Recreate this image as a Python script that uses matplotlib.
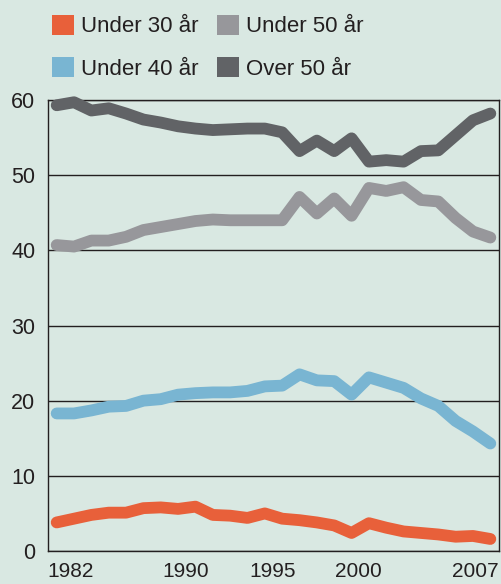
import matplotlib.pyplot as plt
from matplotlib.patches import Patch
from matplotlib.transforms import ScaledTranslation

plt.rcParams['font.family'] = ['Liberation Sans', 'DejaVu Sans']

# Andel (%) per aldersgruppe, 1982-2007
years = list(range(1982, 2008))
under30 = [3.8, 4.3, 4.8, 5.1, 5.1, 5.7, 5.8, 5.6, 5.9, 4.8, 4.7, 4.4, 5.0,
           4.3, 4.1, 3.8, 3.4, 2.4, 3.7, 3.1, 2.6, 2.4, 2.2, 1.9, 2.0, 1.6]
under40 = [18.3, 18.3, 18.7, 19.2, 19.3, 20.0, 20.2, 20.8, 21.0, 21.1, 21.1,
           21.3, 21.9, 22.0, 23.5, 22.7, 22.6, 20.8, 23.1, 22.4, 21.7, 20.3,
           19.3, 17.3, 15.9, 14.3]
under50 = [40.7, 40.5, 41.3, 41.3, 41.8, 42.7, 43.1, 43.5, 43.9, 44.1, 44.0,
           44.0, 44.0, 44.0, 47.1, 44.9, 46.9, 44.6, 48.3, 47.9, 48.4, 46.7,
           46.5, 44.3, 42.5, 41.7]
over50 = [59.3, 59.7, 58.6, 58.9, 58.2, 57.4, 57.0, 56.5, 56.2, 56.0, 56.1,
          56.2, 56.2, 55.7, 53.2, 54.6, 53.2, 54.9, 51.8, 52.0, 51.8, 53.2,
          53.3, 55.3, 57.3, 58.2]

labels = ["Under 30 år", "Under 40 år", "Under 50 år", "Over 50 år"]
colors = ["#e8603a", "#79b5d2", "#97979b", "#616366"]
series = [under30, under40, under50, over50]
xtick_years = [1982, 1990, 1995, 2000, 2007]

bg = "#d9e8e2"
ink = "#231f20"

fig = plt.figure(figsize=(5.01, 5.84), dpi=100, facecolor=bg)
ax = fig.add_axes([48 / 501, 33 / 584, 451 / 501, 451 / 584], facecolor=bg)

# Draw the lines (bottom series first, like the original)
for vals, col in zip(series, colors):
    ax.plot(years, vals, color=col, linewidth=8.5, solid_capstyle='round',
            solid_joinstyle='round', clip_on=False, zorder=3)

ax.set_xlim(1981.5, 2007.5)
ax.set_ylim(0, 60)
ax.set_yticks(range(0, 61, 10))
ax.yaxis.grid(True, color=ink, linewidth=1.0)
ax.set_axisbelow(True)
for sp in ax.spines.values():
    sp.set_color(ink)
    sp.set_linewidth(1.0)

ax.tick_params(axis='both', length=0, labelsize=15.5, colors=ink)
ax.tick_params(axis='y', pad=9)
ax.tick_params(axis='x', pad=8, labelsize=15)

ax.set_xticks(xtick_years)
ax.set_xticklabels([str(y) for y in xtick_years])
# nudge the year labels like the printed chart
shifts = [-9, -10, -10, -11, 8]
aligns = ['left', 'center', 'center', 'center', 'right']
for lab, dx, ha in zip(ax.get_xticklabels(), shifts, aligns):
    lab.set_horizontalalignment(ha)
    lab.set_transform(lab.get_transform() +
                      ScaledTranslation(dx / 100, 0, fig.dpi_scale_trans))

# Legend: two rows, squares
handles = [Patch(facecolor=c, edgecolor='none') for c in colors]
fig.legend(handles, labels, ncol=2, loc='upper left',
           bbox_to_anchor=(45 / 501, 1 - 8 / 584), frameon=False,
           fontsize=16, handlelength=1.0, handleheight=1.0,
           handletextpad=0.3, columnspacing=0.85, labelspacing=0.9,
           labelcolor=ink, borderaxespad=0, borderpad=0.3)

fig.savefig("out.png", dpi=100, facecolor=bg)
